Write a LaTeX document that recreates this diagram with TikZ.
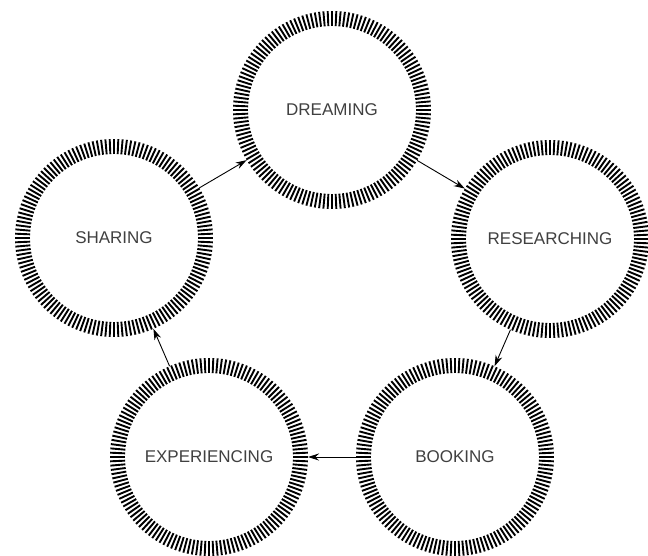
\documentclass[tikz,border=0pt]{standalone}
\usepackage{fontspec}
\setmainfont{Liberation Sans}
\usetikzlibrary{arrows.meta}
\begin{document}
\begin{tikzpicture}[x=1pt,y=-1pt,
  stage/.style={circle,minimum size=198pt,inner sep=0pt,outer sep=0pt,
    font=\fontsize{17}{20}\selectfont,text=black!75},
  tick/.style={line width=1.9pt,black},
  arr/.style={line width=0.9pt,-{Stealth[length=11pt,width=7pt]}}]
\useasboundingbox[fill=white] (0,0) rectangle (648,555);
\node[stage] (d) at (332,110) {DREAMING};
\node[stage] (r) at (550,239) {RESEARCHING};
\node[stage] (b) at (455,457) {BOOKING};
\node[stage] (e) at (209,457) {EXPERIENCING};
\node[stage] (s) at (114,238) {SHARING};
\foreach \n in {d,r,b,e,s}{
  \foreach \a in {0,2.5,...,357.5}{
    \draw[tick] ([shift={(\a:84pt)}]\n.center) -- ([shift={(\a:99pt)}]\n.center);
  }
}
\draw[arr] (s) -- (d);
\draw[arr] (d) -- (r);
\draw[arr] (r) -- (b);
\draw[arr] (b) -- (e);
\draw[arr] (e) -- (s);
\end{tikzpicture}
\end{document}
